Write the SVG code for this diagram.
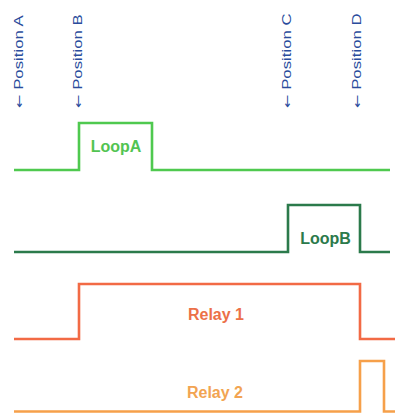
<svg xmlns="http://www.w3.org/2000/svg" width="395" height="414" viewBox="0 0 395 414">
<style>
.pos{font-family:"Liberation Sans",Arial,sans-serif;font-size:12px;fill:#2a4c9c}
.arr{font-family:"DejaVu Sans",sans-serif;font-size:11.5px}
.lbl{font-family:"Liberation Sans",Arial,sans-serif;font-size:16px;font-weight:bold;text-anchor:middle}
.wave{fill:none;stroke-width:2.6;stroke-linejoin:miter}
</style>
<rect width="395" height="414" fill="#ffffff"/>
<g id="positionA"><text class="pos" transform="translate(22.5,108) rotate(-90) scale(1.4,1)"><tspan class="arr">←</tspan> Position A</text></g>
<g id="positionB"><text class="pos" transform="translate(82,108) rotate(-90) scale(1.4,1)"><tspan class="arr">←</tspan> Position B</text></g>
<g id="positionC"><text class="pos" transform="translate(291,108) rotate(-90) scale(1.4,1)"><tspan class="arr">←</tspan> Position C</text></g>
<g id="positionD"><text class="pos" transform="translate(361,108) rotate(-90) scale(1.4,1)"><tspan class="arr">←</tspan> Position D</text></g>
<g id="loopA">
<path class="wave" stroke="#4fc94f" d="M14,170 H79 V123 H152 V170 H390"/>
<text class="lbl" x="116" y="152" fill="#52c452">LoopA</text>
</g>
<g id="loopB">
<path class="wave" stroke="#2b7a4b" d="M14,252 H288 V205 H360 V252 H390"/>
<text class="lbl" x="325.5" y="244" fill="#2b7a4b">LoopB</text>
</g>
<g id="relay1">
<path class="wave" stroke="#f26a45" d="M14,339 H79 V284 H360 V339 H395"/>
<text class="lbl" x="216" y="320" fill="#ec7048">Relay 1</text>
</g>
<g id="relay2">
<path class="wave" stroke="#f6a04a" d="M14,411.5 H360 V361 H384 V411.5 H395"/>
<text class="lbl" x="215" y="398" fill="#f2a452">Relay 2</text>
</g>
</svg>
